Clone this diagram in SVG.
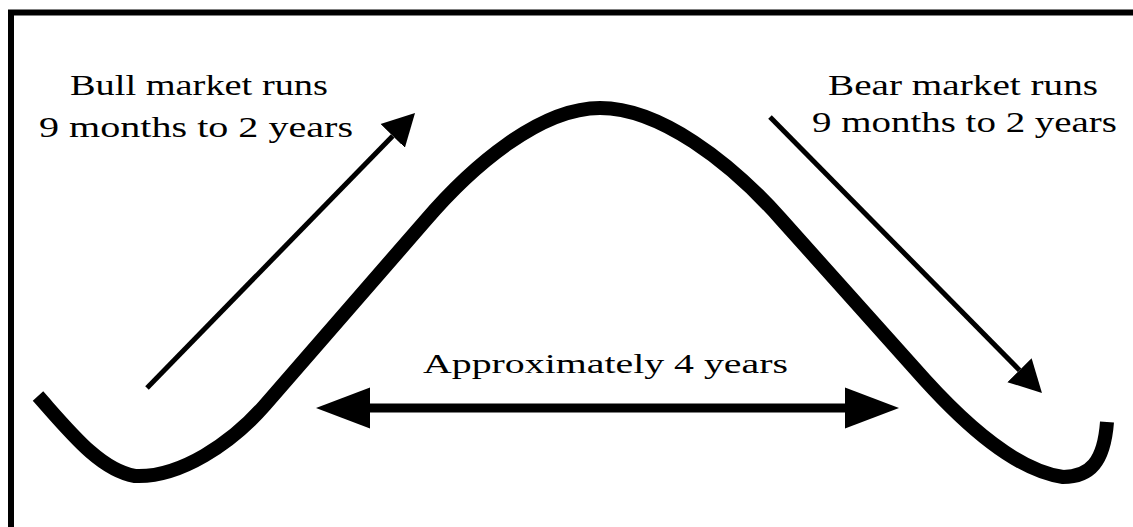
<svg xmlns="http://www.w3.org/2000/svg" width="1133" height="527" viewBox="0 0 1133 527">
  <style>
    .lbl { font-family: "Liberation Serif", "Times New Roman", serif; fill: #000; }
    .thin { stroke: #000; stroke-width: 5; fill: none; }
    .thick { stroke: #000; stroke-width: 9; fill: none; }
  </style>
  <defs>
    <marker id="headSmall" markerUnits="userSpaceOnUse" viewBox="0 -20 40 40" markerWidth="40" markerHeight="40" refX="0" refY="0" orient="auto">
      <path d="M0,-17 L32,0 L0,17 Z" fill="#000"/>
    </marker>
    <marker id="headBig" markerUnits="userSpaceOnUse" viewBox="0 -24 60 48" markerWidth="60" markerHeight="48" refX="0" refY="0" orient="auto-start-reverse">
      <path d="M0,-20.5 L54,0 L0,20.5 Z" fill="#000"/>
    </marker>
  </defs>
  <rect x="0" y="0" width="1133" height="527" fill="#fff"/>
  <rect id="frame" x="11" y="12.5" width="1150" height="560" fill="none" stroke="#000" stroke-width="6"/>

  <g id="cycle-curve">
    <path d="M38,396 C70,432 100,470 135,476 C180,478 232,443 265,405 L425,221 C472,166 540,108 600,108 C660,108 730,162 780,218 L925,380 C965,424 1015,470 1063,477 C1090,477 1104,462 1107,422" fill="none" stroke="#000" stroke-width="14" stroke-linejoin="round"/>
  </g>

  <g id="bull-label">
    <text class="lbl" x="70" y="95" font-size="29" textLength="258" lengthAdjust="spacingAndGlyphs">Bull market runs</text>
    <text class="lbl" x="39" y="137" font-size="29" textLength="314" lengthAdjust="spacingAndGlyphs">9 months to 2 years</text>
  </g>

  <g id="bear-label">
    <text class="lbl" x="828" y="95" font-size="29" textLength="270" lengthAdjust="spacingAndGlyphs">Bear market runs</text>
    <text class="lbl" x="812" y="132" font-size="29" textLength="305" lengthAdjust="spacingAndGlyphs">9 months to 2 years</text>
  </g>

  <g id="cycle-label">
    <text class="lbl" x="423" y="373" font-size="27" textLength="365" lengthAdjust="spacingAndGlyphs">Approximately 4 years</text>
  </g>

  <g id="connectors">
    <line id="bull-arrow" class="thin" x1="147" y1="388" x2="392.7" y2="135.9" marker-end="url(#headSmall)"/>
    <line id="bear-arrow" class="thin" x1="770" y1="117" x2="1019.5" y2="370.2" marker-end="url(#headSmall)"/>
    <line id="span-arrow" class="thick" x1="370" y1="408" x2="845" y2="408" marker-start="url(#headBig)" marker-end="url(#headBig)"/>
  </g>
</svg>
